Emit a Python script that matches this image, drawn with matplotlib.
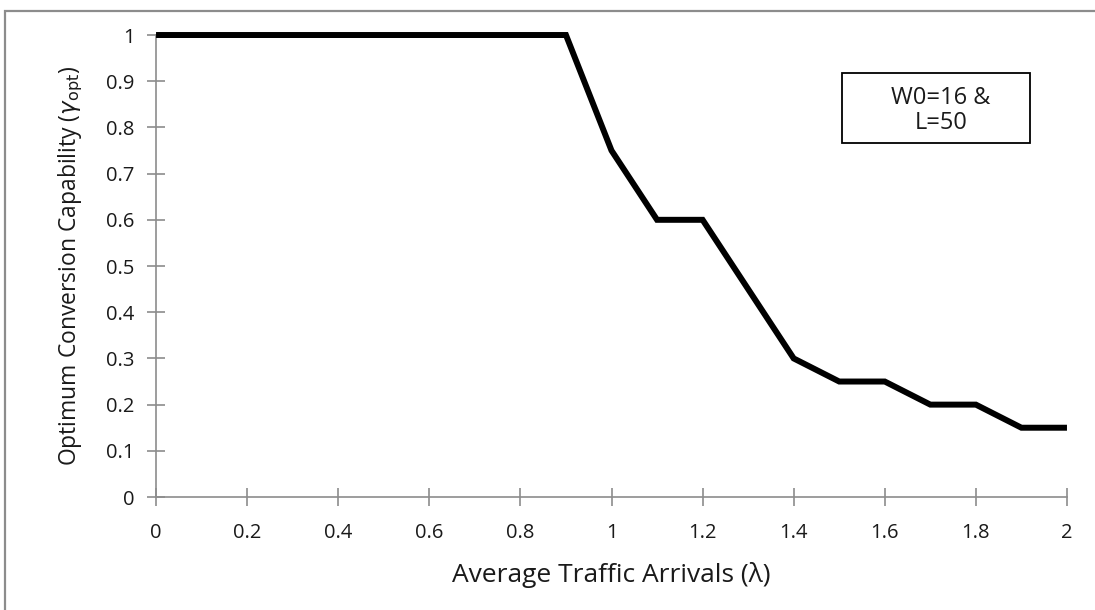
import matplotlib
matplotlib.use("Agg")
import matplotlib.pyplot as plt
from matplotlib.patches import Rectangle

# optimum conversion capability vs. average traffic arrivals
arrivals = [0.0, 0.1, 0.2, 0.3, 0.4, 0.5, 0.6, 0.7, 0.8, 0.9,
            1.0, 1.1, 1.2, 1.3, 1.4, 1.5, 1.6, 1.7, 1.8, 1.9, 2.0]
gamma_opt = [1, 1, 1, 1, 1, 1, 1, 1, 1, 1,
             0.75, 0.6, 0.6, 0.45, 0.3, 0.25, 0.25, 0.2, 0.2, 0.15, 0.15]
x_ticks = [0, 0.2, 0.4, 0.6, 0.8, 1, 1.2, 1.4, 1.6, 1.8, 2]
y_ticks = [0, 0.1, 0.2, 0.3, 0.4, 0.5, 0.6, 0.7, 0.8, 0.9, 1]
note = "W0=16 &\nL=50"

grey = "#8c8c8c"
ink = "#1a1a1a"
plt.rcParams["font.family"] = ["Open Sans", "DejaVu Sans"]

fig = plt.figure(figsize=(10.95, 6.10), dpi=100)
ax = fig.add_axes([0.1425, 0.1852, 0.8319, 0.7574])

ax.plot(arrivals, gamma_opt, color="black", lw=4.3, solid_joinstyle="miter",
        solid_capstyle="butt", clip_on=False, zorder=3)

ax.set_xlim(0, 2)
ax.set_ylim(0, 1)
ax.set_xticks(x_ticks)
ax.set_yticks(y_ticks)
ax.set_xticklabels([f"{v:g}" for v in x_ticks])
ax.set_yticklabels([f"{v:g}" for v in y_ticks])
for side in ("top", "right"):
    ax.spines[side].set_visible(False)
for side in ("left", "bottom"):
    ax.spines[side].set_color(grey)
    ax.spines[side].set_linewidth(1.2)
ax.tick_params(direction="inout", length=13, width=1.2, color=grey,
               labelsize=14.5, labelcolor=ink)
ax.tick_params(axis="x", pad=12)
ax.tick_params(axis="y", pad=9)

ax.set_xlabel("Average Traffic Arrivals (λ)", fontsize=19, labelpad=14,
              color=ink)
ax.set_ylabel(r"Optimum Conversion Capability ($\gamma_{\mathrm{opt}}$)",
              fontsize=16.5, labelpad=15, color=ink)

fig.text(0.8595, 0.819, note, ha="center", va="center", fontsize=17,
         color=ink, linespacing=1.1)
fig.patches.append(Rectangle((0.769, 0.766), 0.172, 0.115,
                             transform=fig.transFigure, fill=False,
                             edgecolor="black", lw=1.3))

# chart-area frame
fig.patches.append(Rectangle((0.0046, -0.01), 1.0, 0.992,
                             transform=fig.transFigure, fill=False,
                             edgecolor=grey, lw=1.6))

fig.savefig("out.png", dpi=100)
